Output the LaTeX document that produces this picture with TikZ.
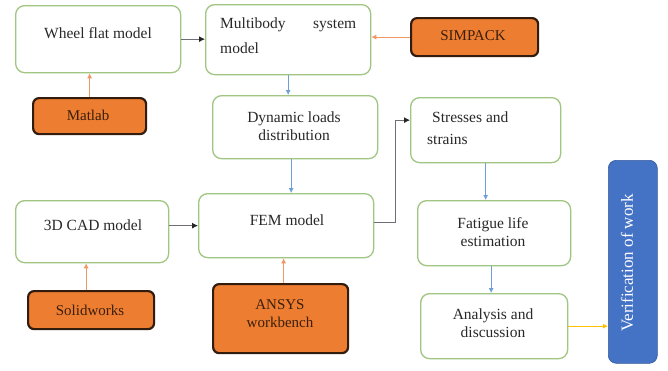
\documentclass[tikz,border=0pt]{standalone}
\usepackage{fontspec}
\setmainfont{Liberation Serif}
\usetikzlibrary{arrows.meta,calc}
\definecolor{boxgreen}{RGB}{160,198,130}
\definecolor{toolorange}{RGB}{237,125,49}
\definecolor{tooledge}{RGB}{50,28,14}
\definecolor{verblue}{RGB}{68,114,196}
\definecolor{linkblue}{RGB}{110,160,215}
\definecolor{linkorange}{RGB}{244,150,100}
\definecolor{linkgray}{RGB}{110,110,120}
\definecolor{linkyellow}{RGB}{255,192,0}
\definecolor{textgray}{RGB}{40,40,40}
\begin{document}
\begin{tikzpicture}[x=1pt,y=-1pt,
  stagebox/.style={draw=boxgreen,line width=1.3pt,rounded corners=9pt,fill=white,anchor=north west,inner sep=0pt},
  toolbox/.style={draw=tooledge,line width=2.2pt,rounded corners=6pt,fill=toolorange,anchor=north west,inner sep=0pt},
  verbox/.style={draw=verblue!80!black,line width=0.6pt,rounded corners=8pt,fill=verblue,anchor=north west,inner sep=0pt},
  lbl/.style={font=\fontsize{15.5}{18}\selectfont,text=textgray,inner sep=0pt,align=center},
  tlbl/.style={font=\fontsize{15}{18}\selectfont,text=black!75!toolorange,inner sep=0pt,align=center},
  tip/.style={-{Latex[length=5pt,width=5pt]}},
  bluelink/.style={tip,draw=linkblue,line width=0.8pt},
  orangelink/.style={tip,draw=linkorange,line width=0.8pt},
  graylink/.style={-{Latex[length=6pt,width=6pt,fill=black!85,color=black!85]},draw=linkgray,line width=0.9pt},
  yellowlink/.style={tip,draw=linkyellow,line width=0.9pt}]
\useasboundingbox (0,0) rectangle (668,370);
\fill[white] (0,0) rectangle (668,370);
% boxes
\node[stagebox,minimum width=165pt,minimum height=67pt] (wheel) at (15,5) {};
\node[stagebox,minimum width=165pt,minimum height=70pt] (multi) at (205,4) {};
\node[toolbox,minimum width=127pt,minimum height=38pt] (simpack) at (410,17) {};
\node[toolbox,minimum width=113pt,minimum height=36pt] (matlab) at (32,97) {};
\node[stagebox,minimum width=165pt,minimum height=63pt] (dyn) at (212,95) {};
\node[stagebox,minimum width=150pt,minimum height=65pt] (stress) at (410,97) {};
\node[stagebox,minimum width=153pt,minimum height=62pt] (cad) at (15,200) {};
\node[stagebox,minimum width=175pt,minimum height=64pt] (fem) at (198,193) {};
\node[toolbox,minimum width=126pt,minimum height=38pt] (solid) at (27,290) {};
\node[toolbox,minimum width=135pt,minimum height=69pt] (ansys) at (212,283) {};
\node[stagebox,minimum width=153pt,minimum height=65pt] (fatigue) at (417,200) {};
\node[stagebox,minimum width=147pt,minimum height=65pt] (analysis) at (420,293) {};
\node[verbox,minimum width=49pt,minimum height=203pt] (verif) at (608,160) {};
% texts
\node[lbl] (twheel) at (98,33) {Wheel flat model};
\node[lbl,anchor=west] (tmulti1) at (220,25) {\makebox[136pt][s]{Multibody system}};
\node[lbl,anchor=west] (tmulti2) at (220,48) {model};
\node[tlbl] (tsimpack) at (473,36) {SIMPACK};
\node[tlbl] (tmatlab) at (88,115) {Matlab};
\node[lbl] (tdyn) at (294,126) {Dynamic loads\\distribution};
\node[lbl,anchor=west] (tstress1) at (432,117) {Stresses and};
\node[lbl,anchor=west] (tstress2) at (427,139) {strains};
\node[lbl] (tcad) at (93,225) {3D CAD model};
\node[lbl] (tfem) at (287,220) {FEM model};
\node[tlbl] (tsolid) at (90,310) {Solidworks};
\node[tlbl] (tansys) at (280,314) {ANSYS\\workbench};
\node[lbl] (tfatigue) at (493,232) {Fatigue life\\estimation};
\node[lbl] (tanalysis) at (493,323) {Analysis and\\discussion};
\node[font=\fontsize{17}{20}\selectfont,text=white,rotate=90,inner sep=0pt] (tverif) at (627,263) {Verification of work};
% connectors
\draw[graylink] (wheel.east) -- (wheel.east -| multi.west);
\draw[orangelink] (matlab.north) -- (matlab.north |- wheel.south);
\draw[orangelink] (simpack.west) -- (simpack.west -| multi.east);
\draw[bluelink] (multi.south) -- (multi.south |- dyn.north);
\draw[bluelink] ([xshift=-4pt]dyn.south) -- ([xshift=-4pt]dyn.south |- fem.north);
\draw[graylink] (fem.west -| cad.east) -- (fem.west);
\draw[orangelink] ([xshift=-5pt]solid.north) -- ([xshift=-5pt]solid.north |- cad.south);
\draw[orangelink] ([xshift=3pt]ansys.north) -- ([xshift=3pt]ansys.north |- fem.south);
\draw[graylink] ([yshift=3pt]fem.east) -- ++(21,0) |- ([yshift=10pt]stress.west);
\draw[bluelink] (stress.south) -- (stress.south |- fatigue.north);
\draw[bluelink] ([xshift=-3pt]fatigue.south) -- ([xshift=-3pt]fatigue.south |- analysis.north);
\draw[yellowlink] (analysis.east) -- (analysis.east -| verif.west);
\end{tikzpicture}
\end{document}
